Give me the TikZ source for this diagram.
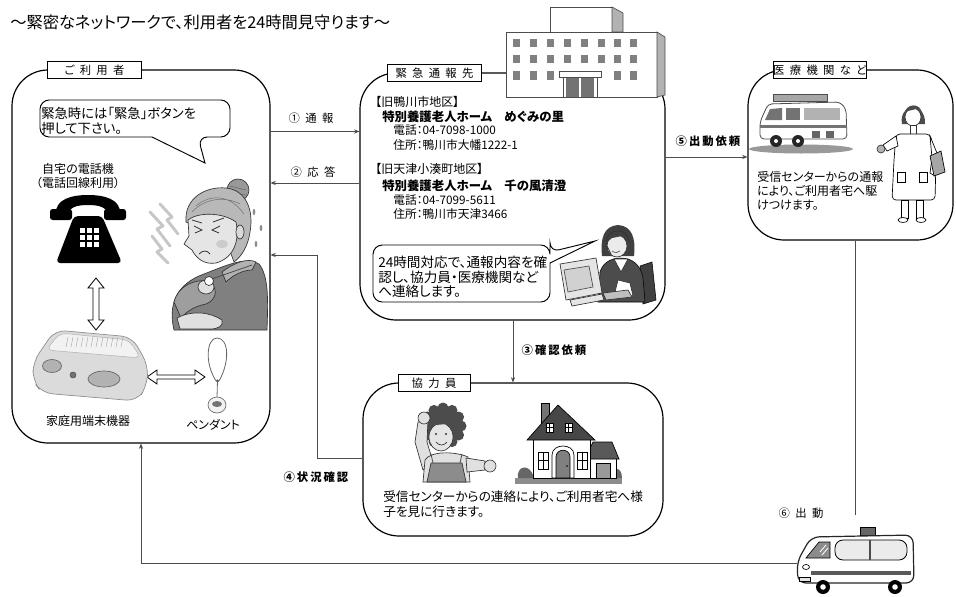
\documentclass[tikz,border=0pt]{standalone}
\usepackage{fontspec}
\setmainfont{Noto Sans CJK JP}[RawFeature=+palt]
\usetikzlibrary{arrows.meta,fit,calc}
\newcommand{\jfs}[2]{\fontsize{#1}{#2}\selectfont}
\newcommand{\kspace}{\hspace{4pt}}
\newcommand{\nspace}{\hspace{1.5pt}}
\begin{document}
\begin{tikzpicture}[x=0.75pt,y=-0.75pt,
  panel/.style={draw=black,line width=0.9pt,rounded corners=27pt,inner sep=0pt},
  tag/.style={draw=black,line width=0.6pt,fill=white,inner sep=0pt,minimum height=12.5pt,font=\jfs{8.5pt}{10pt}},
  link/.style={draw=black!70,line width=0.6pt},
  arrowend/.style={-{Stealth[length=4pt,width=3.2pt]}},
  txt/.style={inner sep=0pt,anchor=west,align=left},
  flowlbl/.style={inner sep=0pt,font=\jfs{8.5pt}{10pt}},
  bubble/.style={draw=black,line width=0.7pt,fill=white},
  ink/.style={draw=black!80,line width=0.5pt},
  hollow/.style={draw=black,line width=0.6pt,fill=white},
]
\useasboundingbox (0,0) rectangle (956,596);

% ---------- title ----------
\node[txt,font=\jfs{12.2pt}{14pt}] (title) at (10,22) {～緊密なネットワークで、利用者を24時間見守ります～};

% ---------- panels ----------
\node[panel,fit={(12,70) (270,443)}] (user) {};
\node[panel,fit={(360,73) (665,320)}] (center) {};
\node[panel,fit={(748,70) (953,240)}] (medical) {};
\node[panel,fit={(363,383) (663,536)}] (helper) {};

% ---------- helper coordinates for the connectors ----------
\coordinate (y1) at (0,131.5);
\coordinate (y2) at (0,183);
\coordinate (y5) at (0,157);
\coordinate (x3) at (513,0);
\coordinate (y4) at (0,458);
\coordinate (y4b) at (0,255);
\coordinate (x4) at (317,0);
\coordinate (x6) at (855,0);
\coordinate (y6) at (0,515);
\coordinate (x7) at (141,0);
\coordinate (vanfront) at (797,563);

% ---------- connectors ----------
\draw[link,arrowend] (user.east |- y1) -- (center.west |- y1);
\draw[link,arrowend] (center.west |- y2) -- (user.east |- y2);
\draw[link,arrowend] (center.east |- y5) -- (medical.west |- y5);
\draw[link,arrowend] (center.south -| x3) -- (helper.north -| x3);
\draw[link,arrowend] (helper.west |- y4) -- (x4 |- y4) -- (x4 |- y4b) -- (user.east |- y4b);
\draw[link] (medical.south -| x6) -- (x6 |- y6);
\draw[link,arrowend] (vanfront) -- (x7 |- vanfront) -- (user.south -| x7);

% ---------- connector labels ----------
\node[flowlbl] (l1) at (311,118) {①\kspace 通\kspace 報};
\node[flowlbl] (l2) at (313,172) {②\kspace 応\kspace 答};
\node[flowlbl,font=\bfseries\jfs{8.5pt}{10pt}] (l3) at (554,350) {③\nspace 確\nspace 認\nspace 依\nspace 頼};
\node[flowlbl,font=\bfseries\jfs{8.5pt}{10pt}] (l4) at (316,477) {④\nspace 状\nspace 況\nspace 確\nspace 認};
\node[flowlbl,font=\bfseries\jfs{8.5pt}{10pt}] (l5) at (708,141) {⑤\nspace 出\nspace 動\nspace 依\nspace 頼};
\node[flowlbl] (l6) at (801,513) {⑥\kspace 出\kspace 動};

% ---------- user panel contents ----------
\draw[bubble] (40,118) [rounded corners=7pt] -- (40,100) -- (230,100) -- (230,137) -- (198,137) [sharp corners] -- (205,163) -- (152,137) [rounded corners=7pt] -- (40,137) -- cycle;
\node[txt,font=\jfs{10pt}{11.25pt}] (b1) at (41,120.5) {緊急時には「緊急」ボタンを\\押して下さい。};
\node[inner sep=0pt,align=center,font=\jfs{9pt}{10.5pt}] (phonecap) at (78,176) {自宅の電話機\\（電話回線利用）};

% telephone
\fill[black] (56,214) .. controls (55,199) and (72,195) .. (88,195) .. controls (104,195) and (121,199) .. (120,214) -- (108,214) .. controls (106,207) and (99,205) .. (88,205) .. controls (77,205) and (70,207) .. (68,214) -- cycle;
\fill[black,rounded corners=2pt] (50,209) rectangle (72,220);
\fill[black,rounded corners=2pt] (104,209) rectangle (126,220);
\fill[black,rounded corners=3pt] (74,216) -- (102,216) -- (122,263) -- (56,263) -- cycle;
\foreach \i in {0,1,2} \foreach \j in {0,1,2}
  \fill[white] ({80+\i*7},{228+\j*7}) rectangle ++(5,5);

% double arrows
\draw[hollow] (96,278) -- (104,288) -- (99,288) -- (99,320) -- (104,320) -- (96,330) -- (88,320) -- (93,320) -- (93,288) -- (88,288) -- cycle;
\draw[hollow] (147,377) -- (157,370) -- (157,375) -- (195,375) -- (195,370) -- (205,377) -- (195,384) -- (195,379) -- (157,379) -- (157,384) -- cycle;

% home terminal
\filldraw[fill=black!14,draw=black!45,line width=0.5pt,rounded corners=8pt] (33,362) -- (55,330) -- (132,337) -- (148,365) -- (147,386) -- (137,401) -- (42,393) -- (33,381) -- cycle;
\filldraw[fill=black!5,draw=black!30,line width=0.4pt,rounded corners=5pt] (46,350) -- (60,333) -- (129,340) -- (141,358) -- cycle;
\foreach \k in {0,...,11} \draw[black!30,line width=0.4pt] ({68+\k*5},337) -- ({66+\k*5},347);
\filldraw[fill=black!30,draw=black!60,line width=0.5pt] (52,366) ellipse (9.5 and 6.5);
\filldraw[fill=black!55,draw=black!70] (73,375) circle (3);
\filldraw[fill=black!30,draw=black!60,line width=0.5pt] (104,379) ellipse (16 and 8);
\node[inner sep=0pt,font=\jfs{9pt}{10pt}] (termcap) at (88,421) {家庭用端末機器};

% pendant
\draw[black!60,line width=0.6pt] (216,381) .. controls (204,362) and (207,338) .. (217,338) .. controls (229,338) and (230,362) .. (219,381);
\fill[black!70] (217.5,381) circle (1.6);
\draw[black!60,line width=0.6pt] (217.5,381) -- (217,397);
\filldraw[fill=black!5,draw=black!60,line width=0.5pt] (217,405) ellipse (9 and 8);
\fill[black!55] (217,404) ellipse (5 and 3);
\node[inner sep=0pt,font=\jfs{9pt}{10pt}] (pendcap) at (213,425) {ペンダント};

% elderly woman
\begin{scope}[black!22,line width=2.2pt,line cap=round,line join=round]
  \draw (150,212) -- (163,226) -- (157,229) -- (170,246);
  \draw (160,204) -- (172,217) -- (167,220) -- (178,234);
  \draw (152,236) -- (162,249) -- (157,252) -- (168,263);
\end{scope}
\filldraw[ink,fill=black!50] (174,330) .. controls (168,305) and (176,284) .. (204,274) .. controls (225,266) and (245,256) .. (259,264) .. controls (269,276) and (268,302) .. (267,330) -- cycle;
\filldraw[ink,fill=black!30] (222,272) .. controls (235,262) and (248,258) .. (256,262) -- (252,270) .. controls (242,270) and (232,276) .. (226,282) -- cycle;
\filldraw[ink,fill=black!38] (174,302) .. controls (178,286) and (194,279) .. (208,281) .. controls (219,287) and (217,300) .. (206,304) .. controls (196,306) and (188,310) .. (181,318) -- cycle;
\filldraw[ink,fill=black!12] (206,287) ellipse (8 and 7);
\draw[black!70,line width=0.6pt] (209,280) -- (252,265);
\filldraw[ink,fill=white] (209,281) circle (4.5);
\filldraw[ink,fill=black!12] (177,318) .. controls (192,310) and (210,312) .. (222,320) .. controls (224,326) and (218,329) .. (210,329) -- (180,329) -- cycle;
\filldraw[ink,fill=black!40] (238,190) circle (11);
\draw[black!60,line width=0.4pt] (230,186) -- (246,190) (229,193) -- (247,195);
\filldraw[ink,fill=black!28] (186,222) .. controls (184,198) and (206,186) .. (226,188) .. controls (246,190) and (254,210) .. (250,232) .. controls (248,246) and (242,256) .. (234,262) -- (226,240) -- cycle;
\draw[black!55,line width=0.4pt] (192,212) .. controls (205,198) and (225,196) .. (240,204) (196,206) .. controls (210,194) and (230,194) .. (244,214);
\filldraw[ink,fill=black!10] (188,220) .. controls (198,212) and (222,212) .. (236,222) .. controls (240,240) and (234,258) .. (216,263) .. controls (204,265) and (196,258) .. (192,250) -- (184,244) -- (189,236) -- cycle;
\filldraw[ink,fill=black!15] (240,232) ellipse (4 and 7);
\draw[black!80,line width=0.6pt] (194,226) -- (202,230) -- (195,233) (220,226) -- (212,230) -- (219,233);
\draw[black!80,line width=0.6pt] (192,220) -- (202,223) (213,222) -- (224,218);
\draw[black!80,line width=0.6pt] (199,254) .. controls (203,250) and (207,250) .. (210,254);
\fill[black!20] (222,244) ellipse (6 and 4);
\fill[black!45] (254,212) ellipse (1.3 and 3.2);
\fill[black!45] (261,228) ellipse (1.3 and 3.2);
\fill[black!45] (256,244) ellipse (1.3 and 3.2);

% ---------- emergency centre contents ----------
% building
\begin{scope}[line width=0.5pt]
  \filldraw[draw=black!70,fill=white] (550,32) -- (550,7) -- (612,7) -- (612,32);
  \filldraw[draw=black!70,fill=black!30] (612,7) -- (623,13) -- (623,32) -- (612,32) -- cycle;
  \filldraw[draw=black!70,fill=white] (506,32) rectangle (657,97);
  \filldraw[draw=black!70,fill=black!30] (657,32) -- (665,37) -- (665,95) -- (657,97) -- cycle;
  \foreach \x in {513,530,547,564,581,598,614,630}
    \foreach \y in {39,55} \fill[black!50] (\x,\y) rectangle ++(7,8);
  \foreach \x in {513,530,547,614,630} \fill[black!50] (\x,71) rectangle ++(7,9);
  \filldraw[draw=black!70,fill=white] (559,71) rectangle (601,77);
  \filldraw[draw=black!70,fill=white] (563,77) rectangle (597,97);
  \fill[black!55] (566,78) rectangle (579,97);
  \fill[black!55] (581,78) rectangle (594,97);
\end{scope}

\node[txt,font=\jfs{9pt}{10pt}] (area1) at (375,102) {【旧鴨川市地区】};
\node[txt,font=\bfseries\jfs{9.3pt}{10pt}] (home1) at (382,117) {特別養護老人ホーム　めぐみの里};
\node[txt,font=\jfs{8.8pt}{10pt}] (tel1) at (393,130) {電話：04-7098-1000};
\node[txt,font=\jfs{8.8pt}{10pt}] (adr1) at (393,145) {住所：鴨川市大幡1222-1};
\node[txt,font=\jfs{9pt}{10pt}] (area2) at (375,169) {【旧天津小湊町地区】};
\node[txt,font=\bfseries\jfs{9.3pt}{10pt}] (home2) at (382,186) {特別養護老人ホーム　千の風清澄};
\node[txt,font=\jfs{8.8pt}{10pt}] (tel2) at (393,200) {電話：04-7099-5611};
\node[txt,font=\jfs{8.8pt}{10pt}] (adr2) at (393,214) {住所：鴨川市天津3466};

% operator speech bubble
\draw[bubble] (373,275) [rounded corners=7pt] -- (373,245) -- (550,245) -- (550,252) [sharp corners] -- (595,241) -- (550,263) [rounded corners=7pt] -- (550,302) -- (373,302) -- cycle;
\node[txt,font=\jfs{10.2pt}{10.9pt}] (b2) at (378,277) {24時間対応で、通報内容を確\\認し、協力員・医療機関など\\へ連絡します。};

% operator
\filldraw[fill=black!75,draw=black] (640,266) -- (652,262) -- (656,300) -- (643,304) -- cycle;
\fill[black!75] (602,256) .. controls (600,238) and (604,226) .. (618,225) .. controls (632,226) and (636,238) .. (634,256) -- cycle;
\filldraw[fill=black!70,draw=black] (598,302) -- (600,272) .. controls (603,262) and (612,258) .. (621,258) .. controls (632,258) and (641,265) .. (643,278) -- (645,302) -- cycle;
\filldraw[fill=white,draw=black!80,line width=0.5pt] (614,259) -- (621,272) -- (628,259) -- cycle;
\filldraw[ink,fill=black!8] (617,246) ellipse (10 and 11);
\fill[black!75] (606,243) .. controls (606,230) and (628,228) .. (629,242) -- (622,236) -- (612,238) -- cycle;
\draw[black!80,line width=0.6pt] (606,242) .. controls (607,228) and (628,226) .. (629,242);
\draw[black!80,line width=0.6pt] (607,246) -- (611,254);
\draw[black!70,line width=0.5pt] (612,251) .. controls (615,253) and (618,253) .. (620,251);
\filldraw[ink,fill=white] (618,280) -- (630,283) -- (633,296) -- (614,296) -- cycle;
\filldraw[ink,fill=black!10] (560,264) -- (596,258) -- (602,293) -- (566,300) -- cycle;
\filldraw[draw=black!70,line width=0.5pt,fill=black!18] (564,270) -- (589,266) -- (593,287) -- (568,292) -- cycle;
\filldraw[ink,fill=black!10] (570,300) -- (602,294) -- (604,300) -- (572,306) -- cycle;
\filldraw[ink,fill=black!25] (603,293) -- (628,290) -- (632,297) -- (606,300) -- cycle;

% ---------- medical panel contents ----------
\fill[black!40] (801,149) ellipse (52 and 4.5);
\filldraw[draw=black!70,fill=black!35,line width=0.5pt] (773,94) rectangle (827,101);
\filldraw[draw=black!70,fill=white,line width=0.6pt,rounded corners=3pt] (760,139) -- (760,122) -- (768,104) -- (840,102) -- (846,109) -- (847,139) -- cycle;
\fill[black!55] (765,120) -- (770,109) -- (782,108) -- (782,120) -- cycle;
\fill[black!55] (786,108) rectangle (800,120);
\fill[black!30] (804,108) rectangle (840,120);
\fill[black!55] (760,125) rectangle (847,128);
\fill[black!60] (812,131) rectangle (820,138);
\fill[black!60] (826,131) rectangle (834,138);
\fill[black!85] (776,141) circle (6);
\fill[black!85] (798,141) circle (6);
\fill[white] (776,141) circle (2);
\fill[white] (798,141) circle (2);

% nurse
\begin{scope}[shift={(4,0)}]
\fill[black!70] (898,124) .. controls (894,104) and (922,100) .. (921,124) -- cycle;
\filldraw[ink,fill=white] (909,117) ellipse (8 and 9);
\fill[black!70] (900,114) .. controls (902,103) and (917,102) .. (918,114) -- (912,109) -- (904,111) -- cycle;
\filldraw[ink,fill=white] (906,125) rectangle (912,134);
\filldraw[draw=black,line width=0.5pt,fill=white,rounded corners=3pt] (892,134) -- (926,134) -- (932,160) -- (931,200) -- (888,200) -- (890,160) -- cycle;
\filldraw[draw=black,line width=0.5pt,fill=white] (892,136) -- (879,145) -- (883,151) -- (894,146) -- cycle;
\filldraw[ink,fill=black!30] (877,149) circle (4);
\filldraw[draw=black,line width=0.5pt,fill=white] (926,136) -- (935,158) -- (931,176) -- (926,173) -- (928,158) -- cycle;
\filldraw[draw=black,line width=0.5pt,fill=black!35] (926,156) -- (937,151) -- (941,172) -- (930,176) -- cycle;
\draw[black,line width=0.4pt] (893,172) rectangle (901,182) (915,172) rectangle (923,182);
\filldraw[draw=black,line width=0.5pt,fill=white] (897,200) rectangle (904,218);
\filldraw[draw=black,line width=0.5pt,fill=white] (912,200) rectangle (919,218);
\filldraw[draw=black,line width=0.5pt,fill=white] (899,220) ellipse (5 and 2.5);
\filldraw[draw=black,line width=0.5pt,fill=white] (917,220) ellipse (5 and 2.5);
\end{scope}

\node[txt,font=\jfs{9pt}{10.5pt}] (medtext) at (757,191) {受信センターからの通報\\により、ご利用者宅へ駆\\けつけます。};

% ---------- helper panel contents ----------
\fill[black!70] (443,426) circle (19);
\foreach \a in {0,30,...,330} \fill[black!70] ($(443,426)+(\a:18)$) circle (5.5);
\filldraw[ink,fill=black!10] (441,437) ellipse (12 and 14);
\fill[black!70] (430,428) .. controls (432,418) and (450,416) .. (453,428) -- (446,424) -- (436,425) -- cycle;
\fill[black!80] (436,434) circle (1.2);
\fill[black!80] (446,434) circle (1.2);
\draw[black!80,line width=0.5pt] (436,442) .. controls (439,446) and (444,446) .. (447,442);
\filldraw[ink,fill=black!12] (423,470) -- (415,442) -- (418,422) -- (428,420) -- (427,442) -- (433,462) -- cycle;
\filldraw[ink,fill=black!12] (424,418) circle (6);
\filldraw[ink,fill=black!12] (425,460) .. controls (430,451) and (455,451) .. (468,457) -- (470,482) -- (423,482) -- cycle;
\filldraw[ink,fill=black!45] (431,463) -- (462,463) -- (466,482) -- (427,482) -- cycle;
\draw[black!70,line width=0.6pt] (433,463) -- (431,454) (460,463) -- (462,454);
\filldraw[ink,fill=black!12] (466,458) -- (485,461) -- (485,470) -- (467,472) -- cycle;
\filldraw[ink,fill=black!12] (490,466) circle (6);

% house
\fill[black!45] (515,478) rectangle (622,484);
\fill[black!60] (518,478) .. controls (516,466) and (530,462) .. (534,478) -- cycle;
\fill[black!60] (612,478) .. controls (612,466) and (622,466) .. (622,478) -- cycle;
\filldraw[draw=black,line width=0.5pt,fill=white] (588,458) rectangle (616,478);
\filldraw[draw=black,line width=0.5pt,fill=black!65] (585,459) -- (593,442) -- (612,442) -- (619,459) -- cycle;
\filldraw[draw=black,line width=0.5pt,fill=black!40] (596,463) rectangle (610,478);
\filldraw[draw=black,line width=0.5pt,fill=white] (533,437) rectangle (590,478);
\filldraw[draw=black,line width=0.5pt,fill=black!55] (541,403) rectangle (549,425);
\filldraw[draw=black,line width=0.5pt,fill=black!72] (527,440) -- (558,405) -- (595,440) -- cycle;
\foreach \x in {546,565} {
  \filldraw[draw=black,line width=0.4pt,fill=white] (\x,423) rectangle ++(7,9);
  \draw[black,line width=0.4pt] (\x+3.5,423) -- ++(0,9) (\x,427.5) -- ++(7,0);
}
\filldraw[draw=black,line width=0.5pt,fill=white] (552,478) -- (552,455) .. controls (552,443) and (574,443) .. (574,455) -- (574,478) -- cycle;
\filldraw[draw=black,line width=0.5pt,fill=black!50] (556,478) -- (556,457) .. controls (556,448) and (570,448) .. (570,457) -- (570,478) -- cycle;
\fill[black] (567,466) circle (0.8);
\foreach \x in {538,577} {
  \filldraw[draw=black,line width=0.4pt,fill=white] (\x,452) rectangle ++(10,17);
  \draw[black,line width=0.4pt] (\x+5,452) -- ++(0,17) (\x,460.5) -- ++(10,0);
}

\node[txt,font=\jfs{9.5pt}{11.5pt}] (helptext) at (383,504) {受信センターからの連絡により、ご利用者宅へ様\\子を見に行きます。};

% ---------- dispatched van ----------
\filldraw[draw=black,line width=0.5pt,fill=black!60] (860,527) rectangle (875,535);
\filldraw[draw=black!85,fill=white,line width=0.9pt,rounded corners=6pt] (798,583) -- (797,562) -- (811,537) -- (913,535) -- (914,583) -- cycle;
\filldraw[draw=black,line width=0.5pt,fill=black!45] (806,558) -- (819,542) -- (830,542) -- (830,558) -- cycle;
\draw[white,line width=0.6pt] (820,552) -- (826,545) (822,555) -- (828,548);
\filldraw[draw=black,line width=0.6pt,fill=black!8,rounded corners=6pt] (835,540) rectangle (907,560);
\draw[black!70,line width=1.5pt] (870,540) -- (870,560);
\fill[black!65] (811,571) rectangle (911,575);
\draw[black,line width=0.5pt] (806,567) ellipse (3.5 and 2.5);
\filldraw[draw=black,line width=0.5pt,fill=black!10] (799,577) rectangle (810,581);
\fill[black] (823,587) circle (7);
\fill[black] (895,587) circle (7);
\fill[white] (823,587) circle (2.8);
\fill[white] (895,587) circle (2.8);

% ---------- panel tags ----------
\node[tag,minimum width=71pt] (usertag) at (94.5,70) {ご\kspace 利\kspace 用\kspace 者};
\node[tag,minimum width=71pt] (centertag) at (434.5,73) {緊\kspace 急\kspace 通\kspace 報\kspace 先};
\node[tag,minimum width=70pt] (medicaltag) at (820,70) {医\kspace 療\kspace 機\kspace 関\kspace な\kspace ど};
\node[tag,minimum width=54pt] (helpertag) at (434,383) {協\kspace 力\kspace 員};

\end{tikzpicture}
\end{document}
